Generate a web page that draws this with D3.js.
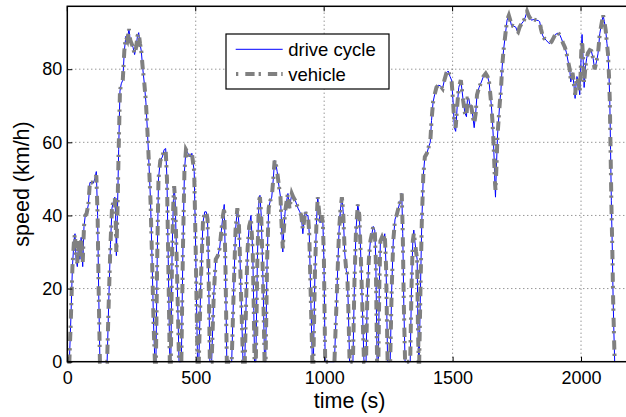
<!DOCTYPE html>
<html><head><meta charset="utf-8">
<script src="https://cdn.jsdelivr.net/npm/d3@7"></script>
<style>body{margin:0;background:#fff}svg{display:block}text{font-family:"Liberation Sans",Arial,Helvetica,sans-serif}</style>
</head><body>
<script>
// ---- data ----
const time = [0,8,14,20,26,30,34,39,44,49,54,60,65,70,75,82,88,95,101,107,113,118,122,127,155,162,168,174,180,185,188,191,195,200,205,210,216,222,228,234,240,245,250,256,262,268,273,278,283,288,294,300,306,312,318,324,330,336,341,345,350,355,362,370,377,383,388,393,399,403,408,413,416,420,427,435,444,450,456,462,470,478,485,494,500,507,512,520,528,535,541,546,551,555,562,570,578,586,593,600,606,611,616,621,640,648,655,662,668,675,684,691,698,702,708,715,719,722,726,729,734,740,746,750,755,762,768,772,778,784,790,796,802,807,812,817,824,830,835,839,843,848,854,859,865,874,880,888,898,905,911,917,921,926,932,937,942,947,954,958,964,970,975,979,984,990,995,999,1004,1040,1050,1058,1064,1069,1074,1080,1086,1090,1094,1099,1112,1118,1124,1131,1137,1144,1150,1155,1163,1168,1174,1180,1186,1191,1197,1201,1206,1211,1215,1219,1225,1230,1236,1241,1247,1257,1263,1269,1276,1282,1289,1296,1302,1306,1310,1315,1335,1340,1345,1349,1353,1358,1362,1365,1368,1370,1375,1380,1386,1392,1400,1408,1413,1418,1424,1430,1437,1444,1452,1461,1468,1476,1483,1490,1496,1502,1507,1512,1518,1524,1532,1537,1541,1548,1554,1558,1563,1568,1573,1579,1584,1590,1595,1603,1612,1620,1629,1636,1642,1647,1651,1655,1658,1662,1665,1667,1670,1675,1680,1684,1688,1693,1698,1703,1708,1712,1719,1724,1729,1737,1746,1751,1755,1761,1768,1775,1782,1790,1797,1807,1816,1826,1834,1839,1844,1850,1857,1865,1872,1878,1885,1891,1900,1911,1918,1924,1930,1937,1943,1950,1956,1960,1963,1967,1972,1977,1979,1984,1989,1995,1998,2001,2004,2008,2012,2017,2022,2027,2034,2040,2047,2053,2060,2066,2073,2080,2086,2091,2096,2101,2105,2109,2112,2115,2118,2122,2125,2128,2131];
const driveCycle = [0,0,12,26,33,35,28,26,33,28,34,26,37,40,40.5,43,49,49,48.8,50,52,40,20,0,0,18,32,42,44,45,40,29,40,58,74,76,77,85,89,88,91,88,87,86,84,86,89,90,87,85,80,76,71,63,54,44,28,10,0,0,28,50,55,56,58,58.3,50,28,0,0,30,44,48,44,25,0,0,30,52,58,57,56,57,52,30,0,0,22,38,41,41,39,20,0,0,18,28,29,31,36,40,43,25,0,0,20,36,42,38,22,0,0,22,31,37,40,34,30,14,0,0,28,44,45.5,40,22,0,0,28,42,44,45,50,55,54,52,48,45,36,30,36,41,44,46,42,46,45,44,42,41,40,35,38,41,40,40,35,20,0,0,24,38,45,42,38,40,38,28,0,0,20,36,42,45,41,30,25,24,15,0,0,22,36,43,40,26,12,0,0,18,28,33,35,37,36,28,0,0,22,33,34,33,35,26,0,0,20,33,39,40,42,44,46,35,16,0,0,20,33,36,33,30,28,10,0,0,20,38,51,56,57,59,60,66,71,73,75,75.6,75.5,74.7,77,79,79.5,78,77,71,64,63,70,75,77,74,71.5,68,67,72,72,70,69.7,67,64,68,73,75,76.5,78,78.8,78,76.5,73,70,66,62,55,48,45,52,62,67,71,74,80.6,85,88,91,93.4,94.7,93.5,92,91.8,91.5,90.5,90.2,91.5,92.4,93,94,95.8,94.5,93.4,93.6,93.4,93.3,93,91,89.3,88.4,87.9,87.3,87,87.5,88.3,89.5,89.9,89.3,88.3,87.1,86,84.6,82,80,76.5,77.5,79,76,72,74.5,78,77,73,78,85,89.5,83,75,80.6,83,84.4,85.2,85,83,80,82,84.2,89.7,92.5,94.7,93,90.7,87,84.2,78,71.5,58,44,30,17,8,0];
const vehicle = [0,0,12,26,33,35,28,27,33,28,34,27,37,40,40.5,43,49,49,48.8,50,51,40,20,0,0,18,32,42,44,45,40,30,40,58,74,76,77,85,89,88,91,88,87,86,84,86,89,90,87,85,80,76,71,63,54,44,28,10,0,0,28,50,55,56,58,58,50,28,0,0,30,44,48,44,25,0,0,30,52,58,57,56,57,52,30,0,0,22,38,41,41,39,20,0,0,18,28,29,31,36,40,42,25,0,0,20,36,42,38,22,0,0,22,31,37,39,34,30,14,0,0,28,44,45,40,22,0,0,28,42,44,45,50,55,54,52,48,45,36,31,36,41,44,46,42,46,45,44,42,41,40,36,38,41,40,40,35,20,0,0,24,38,45,42,38,40,38,28,0,0,20,36,42,45,41,30,25,24,15,0,0,22,36,43,40,26,12,0,0,18,28,33,35,37,36,28,0,0,22,33,34,33,35,26,0,0,20,33,39,40,42,44,46,35,16,0,0,20,33,35,33,30,28,10,0,0,20,38,51,56,57,59,60,66,71,73,75,75.6,75.5,74.7,77,79,79.5,78,77,71,65,64,70,75,77,74,71.5,68,67,72,72,70,69.7,67,65,68,73,75,76.5,78,78.8,78,76.5,73,70,66,62,55,49,47,52,62,67,71,74,80.6,85,88,91,93.4,94.7,93.5,92,91.8,91.5,90.5,90.2,91.5,92.4,93,94,95.8,94.5,93.4,93.6,93.4,93.3,93,91,89.3,88.4,87.9,87.3,87,87.5,88.3,89.5,89.9,89.3,88.3,87.1,86,84.6,82,80,77,77.5,79,76,73,74.5,78,77,74,78,85,88,83,76,80.6,83,84.4,85.2,85,83,80,82,84.2,89.7,92.5,94.7,93,90.7,87,84.2,78,71.5,58,44,30,17,8,0];
const xTicks = [0,500,1000,1500,2000];
const yTicks = [0,20,40,60,80];
const seriesNames = ["drive cycle","vehicle"];

// ---- chart ----
const W = 626, H = 417;
const svg = d3.select("body").append("svg").attr("width", W).attr("height", H);
const x = d3.scaleLinear().domain([0, 2200]).range([67.3, 632.4]);
const y = d3.scaleLinear().domain([0, 97.2]).range([361.7, 6.3]);
const [x0, x1] = x.range(), [y0, y1] = y.range();

svg.append("rect").attr("x", x0).attr("y", y1).attr("width", x1 - x0).attr("height", y0 - y1).attr("fill", "#fff");

// grid
const grid = svg.append("g").attr("stroke", "#444").attr("stroke-width", 0.8).attr("stroke-dasharray", "1,3");
grid.selectAll(".gx").data(xTicks.filter(d => d > 0)).join("line")
  .attr("x1", d => x(d)).attr("x2", d => x(d)).attr("y1", y0).attr("y2", y1);
grid.selectAll(".gy").data(yTicks.filter(d => d > 0)).join("line")
  .attr("y1", d => y(d)).attr("y2", d => y(d)).attr("x1", x0).attr("x2", x1);

// lines
const line = (vals) => d3.line().x((d, i) => x(time[i])).y(d => y(d))(vals);
svg.append("path").attr("d", line(driveCycle)).attr("fill", "none")
  .attr("stroke", "#0000ff").attr("stroke-width", 1);
svg.append("path").attr("d", line(vehicle)).attr("fill", "none")
  .attr("stroke", "#808080").attr("stroke-width", 4).attr("stroke-dasharray", "9.3,4,2.3,7");

// axes
const xAxis = d3.axisBottom(x).tickValues(xTicks).tickFormat(d3.format("d")).tickSizeInner(-5).tickSizeOuter(0).tickPadding(9.5);
const gx = svg.append("g").attr("transform", `translate(0,${y0})`).call(xAxis);
const yAxis = d3.axisLeft(y).tickValues(yTicks).tickFormat(d3.format("d")).tickSizeInner(-5).tickSizeOuter(0).tickPadding(5);
const gy = svg.append("g").attr("transform", `translate(${x0},0)`).call(yAxis);
[gx, gy].forEach(g => {
  g.select(".domain").remove();
  g.selectAll("text").attr("font-size", 18).attr("fill", "#000").attr("font-family", '"Liberation Sans",Arial,sans-serif');
  g.selectAll("line").attr("stroke", "#000");
});
// top ticks
svg.append("g").selectAll("line").data(xTicks).join("line")
  .attr("x1", d => x(d)).attr("x2", d => x(d)).attr("y1", y1).attr("y2", y1 + 5).attr("stroke", "#000");

// frame
svg.append("rect").attr("x", x0).attr("y", y1).attr("width", x1 - x0).attr("height", y0 - y1)
  .attr("fill", "none").attr("stroke", "#000").attr("stroke-width", 1.5);

// labels
svg.append("text").attr("x", 349.6).attr("y", 408.3).attr("text-anchor", "middle")
  .attr("font-size", 21.5).text("time (s)");
svg.append("text").attr("transform", "translate(29,184) rotate(-90)").attr("text-anchor", "middle")
  .attr("font-size", 21.5).text("speed (km/h)");

// legend
const lg = svg.append("g");
lg.append("rect").attr("x", 226).attr("y", 34).attr("width", 163).attr("height", 55)
  .attr("fill", "#fff").attr("stroke", "#000").attr("stroke-width", 1.2);
lg.append("line").attr("x1", 235.7).attr("x2", 282.7).attr("y1", 49.3).attr("y2", 49.3)
  .attr("stroke", "#0000ff").attr("stroke-width", 1);
lg.append("line").attr("x1", 235.7).attr("x2", 282.7).attr("y1", 74).attr("y2", 74)
  .attr("stroke", "#808080").attr("stroke-width", 4).attr("stroke-dasharray", "9.3,4,2.3,7").attr("stroke-dashoffset", 13);
lg.selectAll("text").data(seriesNames).join("text")
  .attr("x", 288.3).attr("y", (d, i) => i === 0 ? 55.7 : 80.6)
  .attr("font-size", 18.5).text(d => d);
</script>
</body></html>
